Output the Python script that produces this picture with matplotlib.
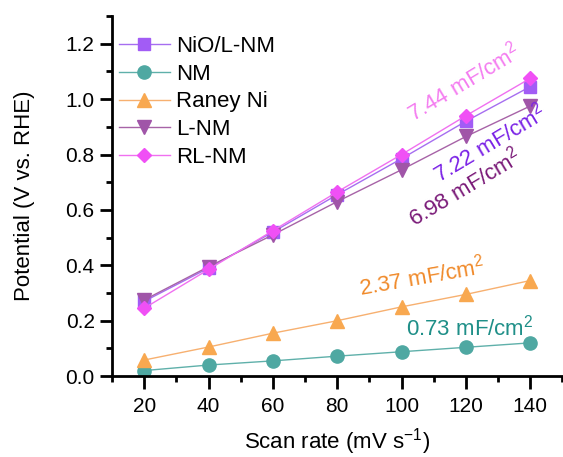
import numpy as np
import matplotlib
matplotlib.use('Agg')
import matplotlib.pyplot as plt
from matplotlib.ticker import MultipleLocator

plt.rcParams['font.family'] = ['Liberation Sans', 'DejaVu Sans']
plt.rcParams['mathtext.default'] = 'regular'

scan_rate = [20, 40, 60, 80, 100, 120, 140]
nio_lnm = [0.27, 0.39, 0.52, 0.655, 0.785, 0.92, 1.045]
nm = [0.02, 0.04, 0.055, 0.072, 0.088, 0.104, 0.12]
raney = [0.058, 0.105, 0.155, 0.2, 0.25, 0.295, 0.345]
lnm = [0.275, 0.395, 0.51, 0.63, 0.745, 0.865, 0.975]
rlnm = [0.245, 0.385, 0.525, 0.665, 0.8, 0.94, 1.075]

fig = plt.figure(figsize=(5.63, 4.57), dpi=100)
ax = fig.add_axes([0.199, 0.177, 0.80, 0.788])

ax.plot(scan_rate, nio_lnm, color='#a66ef0', marker='s', ms=8, lw=1, mfc='#a25cf5', mec='#a25cf5', label='NiO/L-NM')
ax.plot(scan_rate, nm, color='#5fb0aa', marker='o', ms=9.5, lw=1, mfc='#4fa8a2', mec='#4fa8a2', label='NM')
ax.plot(scan_rate, raney, color='#f7b070', marker='^', ms=10, lw=1, mfc='#f8a850', mec='#f8a850', label='Raney Ni')
ax.plot(scan_rate, lnm, color='#a763a7', marker='v', ms=10, lw=1, mfc='#a055a8', mec='#a055a8', label='L-NM')
ax.plot(scan_rate, rlnm, color='#f070f0', marker='D', ms=7.5, lw=1, mfc='#f050f5', mec='#f050f5', label='RL-NM')

# capacitance labels
ax.text(119.4, 1.059, '7.44 mF/cm$^2$', color='#f47cf0', fontsize=16, rotation=31, ha='center', va='center')
ax.text(127.5, 0.842, '7.22 mF/cm$^2$', color='#7a22e6', fontsize=16, rotation=31, ha='center', va='center')
ax.text(119.7, 0.683, '6.98 mF/cm$^2$', color='#7a1a78', fontsize=16, rotation=31, ha='center', va='center')
ax.text(106.3, 0.358, '2.37 mF/cm$^2$', color='#f08a2a', fontsize=16, rotation=10, ha='center', va='center')
ax.text(121.2, 0.177, '0.73 mF/cm$^2$', color='#1f8f88', fontsize=16, ha='center', va='center')

ax.set_xlim(10, 150)
ax.set_ylim(0, 1.3)
ax.xaxis.set_minor_locator(MultipleLocator(10))
ax.yaxis.set_minor_locator(MultipleLocator(0.1))
ax.set_yticks(np.arange(0, 1.21, 0.2))
ax.set_yticklabels(['0.0', '0.2', '0.4', '0.6', '0.8', '1.0', '1.2'])
ax.set_xticks(scan_rate)

for s in ['top', 'right']:
    ax.spines[s].set_visible(False)
for s in ['left', 'bottom']:
    ax.spines[s].set_linewidth(2)
ax.tick_params(which='major', length=9, width=2, labelsize=15, pad=3.5)
ax.tick_params(which='minor', length=4.5, width=2)
ax.tick_params(axis='x', which='major', pad=6)

ax.set_xlabel('Scan rate (mV s$^{-1}$)', fontsize=16)
ax.set_ylabel('Potential (V vs. RHE)', fontsize=16)
ax.xaxis.set_label_coords(0.5, -0.138)
ax.yaxis.set_label_coords(-0.17, 0.5)

ax.legend(loc='upper left', bbox_to_anchor=(-0.03, 1.0), frameon=False, fontsize=16,
          handlelength=2.3, labelspacing=0.3, handletextpad=0.3)

fig.savefig('out.png', dpi=100)
